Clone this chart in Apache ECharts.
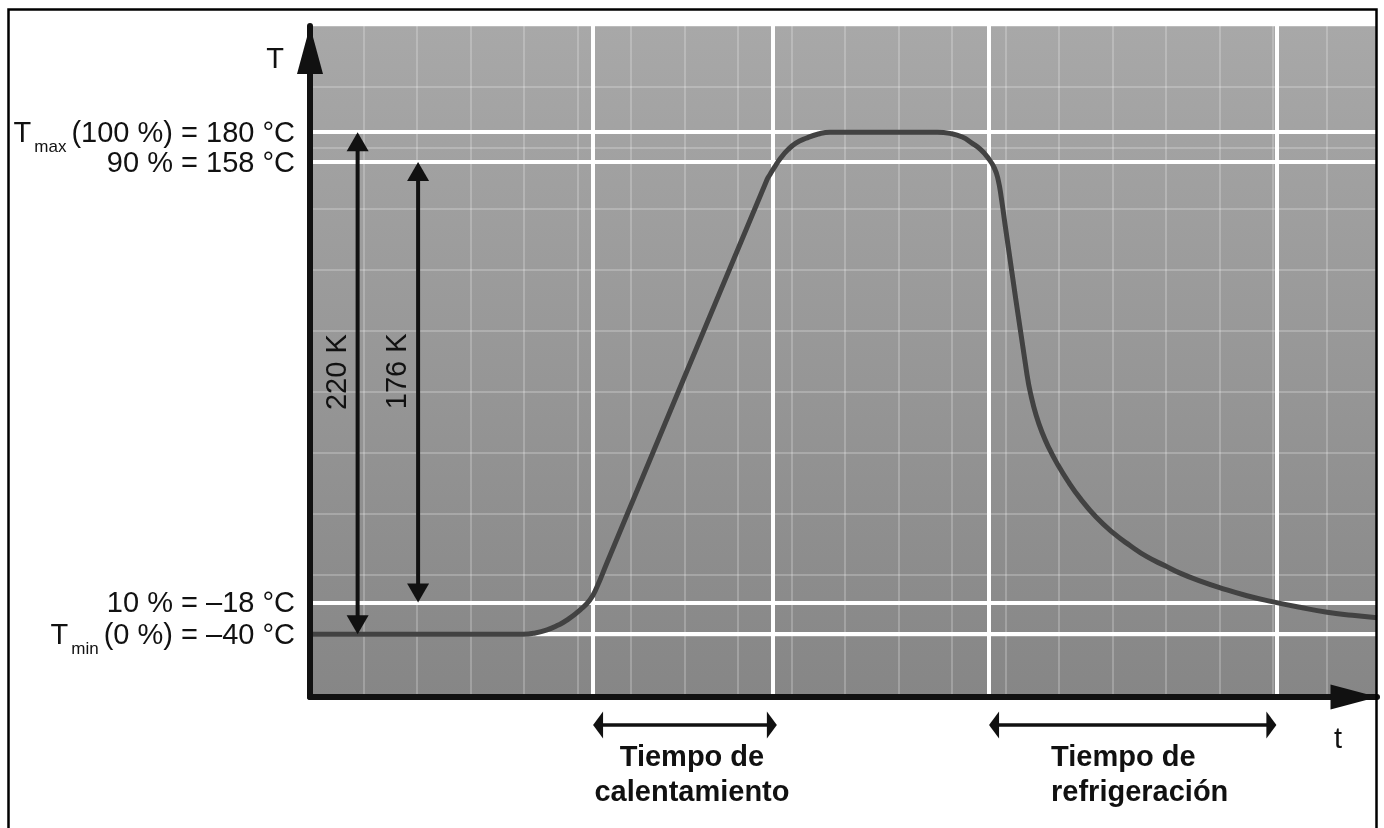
<!DOCTYPE html>
<html>
<head>
<meta charset="utf-8">
<script src="https://cdn.jsdelivr.net/npm/echarts@6/dist/echarts.min.js"></script>
<style>
  html, body { margin: 0; padding: 0; background: #fff; }
  #chart { width: 1384px; height: 828px; }
</style>
</head>
<body>
<div id="chart"></div>
<script>
// temperature curve, in grid columns (time) and grid rows (plotted level)
const curveTime = [0, 3.98, 4.21, 4.43, 4.64, 4.80, 5.05, 5.23, 5.36, 5.55,
  8.54, 8.60, 8.69, 8.80, 8.93, 9.08, 9.27, 9.50, 9.72,
  11.72, 11.96, 12.19, 12.37, 12.54, 12.67, 12.79, 12.86, 12.92, 12.99,
  13.40, 13.48, 13.57, 13.68, 13.81, 13.96, 14.17, 14.39, 14.69, 15.01, 15.33, 15.64, 15.98,
  16.26, 16.64, 17.01, 17.51, 18.00, 18.50, 19.01, 19.48, 19.94];
const curveLevel = [1.03, 1.03, 1.05, 1.10, 1.18, 1.26, 1.43, 1.59, 1.80, 2.20,
  8.48, 8.57, 8.70, 8.84, 8.97, 9.08, 9.16, 9.23, 9.26,
  9.26, 9.24, 9.18, 9.08, 8.97, 8.84, 8.67, 8.48, 8.18, 7.74,
  5.28, 4.92, 4.62, 4.34, 4.08, 3.83, 3.53, 3.26, 2.95, 2.69, 2.48, 2.30, 2.15,
  2.03, 1.90, 1.79, 1.66, 1.56, 1.47, 1.39, 1.34, 1.30];

// labelled temperature levels (top to bottom)
const levelRows = [9.26, 8.77, 1.55, 1.03];
const levelLabels = [
  '{m|T}{s|max}{m|(100 %) = 180 °C}',
  '{m|90 % = 158 °C}',
  '{m|10 % = –18 °C}',
  '{m|T}{s|min}{m|(0 %) = –40 °C}'
];

// heating start/end, cooling start/end
const phaseCols = [5.29, 8.65, 12.69, 18.06];
const phaseNames = ['Tiempo de\ncalentamiento', 'Tiempo de\nrefrigeración'];

// temperature spans between the levels
const spanNames = ['220 K', '176 K'];
const spanCols = [0.89, 2.02];

const xMax = 19.94;
const yMax = 11;
const font = '"Liberation Sans", Arial, Helvetica, sans-serif';
const ink = '#111';

const chart = echarts.init(document.getElementById('chart'));

const gridLine = { lineStyle: { color: 'rgba(255,255,255,0.22)', width: 2 } };
const axisInk = { color: ink, width: 6 };

chart.setOption({
  animation: false,
  grid: {
    left: 310, right: 7, top: 26, bottom: 131,
    show: true, borderWidth: 0,
    backgroundColor: new echarts.graphic.LinearGradient(0, 0, 0, 1, [
      { offset: 0, color: '#a8a8a8' },
      { offset: 1, color: '#868686' }
    ])
  },
  xAxis: [
    {
      type: 'value', min: 0, max: xMax, interval: 1, position: 'bottom',
      axisLine: { show: false }, axisTick: { show: false }, axisLabel: { show: false },
      splitLine: gridLine
    },
    {
      type: 'value', min: 0, max: xMax, interval: 1, position: 'bottom', z: 10,
      axisLine: { onZero: false, lineStyle: axisInk, symbol: ['none', 'triangle'], symbolSize: [25, 47], symbolOffset: [0, -23] },
      axisTick: { show: false }, axisLabel: { show: false }, splitLine: { show: false }
    }
  ],
  yAxis: [
    {
      type: 'value', min: 0, max: yMax, interval: 1, position: 'left',
      axisLine: { show: false }, axisTick: { show: false }, axisLabel: { show: false },
      splitLine: gridLine
    },
    {
      type: 'value', min: 0, max: yMax, interval: 1, position: 'left', z: 10,
      axisLine: { onZero: false, lineStyle: axisInk, symbol: ['none', 'triangle'], symbolSize: [26, 48], symbolOffset: [0, -24] },
      axisTick: { show: false }, axisLabel: { show: false }, splitLine: { show: false }
    }
  ],
  series: [
    {
      type: 'line',
      xAxisIndex: 0, yAxisIndex: 0,
      data: curveTime.map((t, i) => [t, curveLevel[i]]),
      smooth: 0.5,
      showSymbol: false,
      z: 2,
      lineStyle: { color: '#424242', width: 5 },
      markLine: {
        silent: true, z: 1,
        symbol: 'none',
        label: { show: false },
        lineStyle: { color: '#fff', width: 4, type: 'solid' },
        data: levelRows.map(v => ({ yAxis: v })).concat(phaseCols.map(v => ({ xAxis: v })))
      }
    }
  ]
});

const toPx = (x, y) => chart.convertToPixel({ seriesIndex: 0 }, [x, y]);

function arrow(p1, p2, headLen, headW, shaftW) {
  const dx = p2[0] - p1[0], dy = p2[1] - p1[1];
  const len = Math.hypot(dx, dy);
  const ux = dx / len, uy = dy / len, nx = -uy, ny = ux;
  const head = (tip, s) => ({
    type: 'polygon', z: 20, silent: true,
    shape: { points: [
      tip,
      [tip[0] - s * ux * headLen + nx * headW / 2, tip[1] - s * uy * headLen + ny * headW / 2],
      [tip[0] - s * ux * headLen - nx * headW / 2, tip[1] - s * uy * headLen - ny * headW / 2]
    ] },
    style: { fill: ink }
  });
  return [
    {
      type: 'line', z: 20, silent: true,
      shape: { x1: p1[0] + ux * headLen * 0.7, y1: p1[1] + uy * headLen * 0.7, x2: p2[0] - ux * headLen * 0.7, y2: p2[1] - uy * headLen * 0.7 },
      style: { stroke: ink, lineWidth: shaftW }
    },
    head(p2, 1), head(p1, -1)
  ];
}

function label(text, x, y, opts) {
  opts = opts || {};
  const align = opts.align || 'center';
  return Object.assign({
    type: 'text', x: x, y: y, z: 20, silent: true,
    style: Object.assign({
      text: text, fontSize: opts.size || 29, fontFamily: font, fill: ink,
      align: align, verticalAlign: 'middle', textAlign: align, textVerticalAlign: 'middle',
      fontWeight: opts.bold ? 'bold' : 'normal', lineHeight: 35
    }, opts.style)
  }, opts.extra);
}

const origin = toPx(0, 0);
const corner = toPx(xMax, yMax);
const g = [];

// outer frame
g.push({ type: 'rect', z: 30, silent: true, shape: { x: 8.5, y: 9.5, width: 1368, height: 900 }, style: { fill: 'none', stroke: '#000', lineWidth: 2.5 } });

// axis names
g.push(label('T', origin[0] - 35, corner[1] + 34));
g.push(label('t', corner[0] - 39, origin[1] + 43));

// level labels left of the temperature axis
const rich = {
  m: { fontSize: 29, fontFamily: font, fill: ink, color: ink, lineHeight: 30 },
  s: { fontSize: 17, fontFamily: font, fill: ink, color: ink, lineHeight: 30, padding: [27, 5, 0, 3] }
};
levelRows.forEach((r, i) => {
  const p = toPx(0, r);
  g.push(label(levelLabels[i], p[0] - 15, p[1] + 2, { align: 'right', style: { rich: rich, lineHeight: 30 } }));
});

// vertical span arrows: 220 K between Tmin and Tmax, 176 K between 10 % and 90 %
const spanEnds = [[3, 0], [2, 1]];
spanEnds.forEach((ends, i) => {
  const a = toPx(spanCols[i], levelRows[ends[0]]);
  const b = toPx(spanCols[i], levelRows[ends[1]]);
  g.push.apply(g, arrow(a, b, 19, 22, 4));
  g.push(label(spanNames[i], a[0] - 20, (a[1] + b[1]) / 2 - 11, { extra: { rotation: Math.PI / 2 } }));
});

// phase arrows under the time axis
[[0, 1], [2, 3]].forEach((ends, i) => {
  const a = toPx(phaseCols[ends[0]], 0);
  const b = toPx(phaseCols[ends[1]], 0);
  a[1] += 28; b[1] += 28;
  if (i === 0) b[0] += 4;
  g.push.apply(g, arrow(a, b, 10, 27, 3.5));
  if (i === 0) {
    g.push(label(phaseNames[i], (a[0] + b[0]) / 2 + 7, a[1] + 50, { bold: true }));
  } else {
    g.push(label(phaseNames[i], a[0] + 62, a[1] + 50, { bold: true, align: 'left' }));
  }
});

chart.setOption({ graphic: { elements: g } });
</script>
</body>
</html>
